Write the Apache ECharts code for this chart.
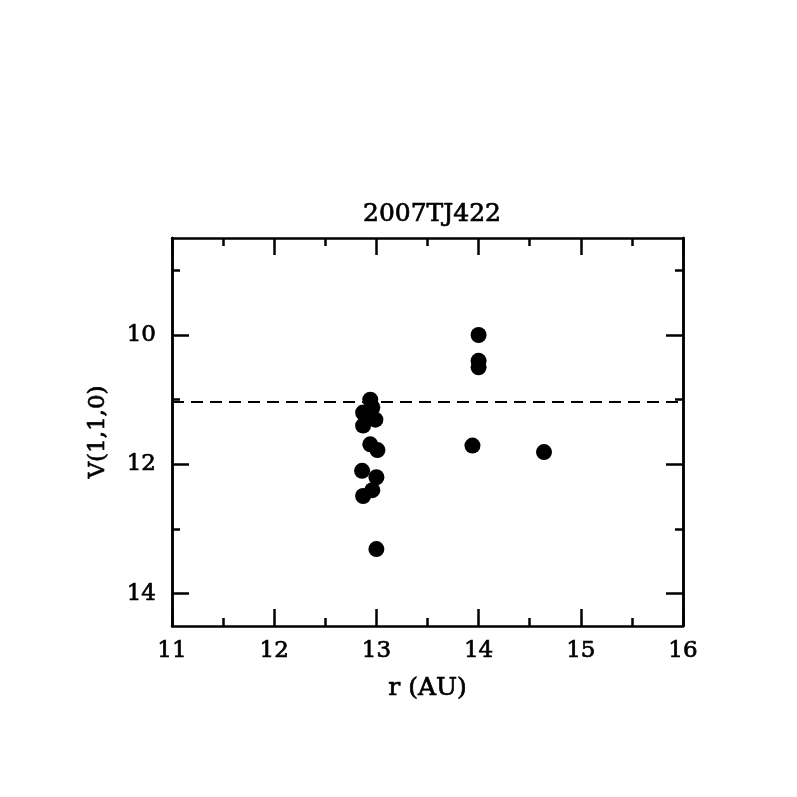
<!DOCTYPE html>
<html>
<head>
<meta charset="utf-8">
<script src="https://cdn.jsdelivr.net/npm/echarts@6/dist/echarts.min.js"></script>
<style>html,body{margin:0;padding:0;background:#fff;}#c{width:797px;height:797px;}</style>
</head>
<body>
<div id="c"></div>
<script>
const titleText = "2007TJ422";
const xName = "r (AU)";
const yName = "V(1,1,0)";
const rVals = [12.94, 12.87, 12.96, 12.99, 12.87, 12.94, 13.01, 12.86, 13.00, 12.96, 12.87, 13.00, 14.00, 14.00, 14.00, 13.94, 14.64];
const vVals = [11.00, 11.20, 11.12, 11.31, 11.40, 11.69, 11.78, 12.10, 12.20, 12.40, 12.49, 13.31, 10.00, 10.40, 10.50, 11.71, 11.81];
const refLine = 11.03;
const yMajor = [10, 12, 14];
const yMinor = [9, 11, 13];
const xRange = [11, 16];
const yRange = [8.5, 14.5];

const FONT = "DejaVu Serif";
const txt = {color: '#000', fontFamily: FONT, fontSize: 23, textBorderColor: '#000', textBorderWidth: 0.7};
const chart = echarts.init(document.getElementById('c'), null, {renderer: 'canvas'});
const line = {show: true, lineStyle: {color: '#000', width: 2.5}};
function xAx(pos, labels) {
  return {
    type: 'value', position: pos, min: xRange[0], max: xRange[1], interval: 1,
    axisLine: line,
    axisTick: {show: true, inside: true, length: 17, lineStyle: {color: '#000', width: 2.5}},
    minorTick: {show: true, splitNumber: 2, length: 8, lineStyle: {color: '#000', width: 2.5}},
    splitLine: {show: false}, minorSplitLine: {show: false},
    axisLabel: Object.assign({show: labels, margin: 14}, txt),
    name: labels ? xName : '', nameLocation: 'middle', nameGap: 50,
    nameTextStyle: Object.assign({}, txt, {fontSize: 25})
  };
}
function yAx(pos, ticks, len, labels) {
  return {
    type: 'value', position: pos, inverse: true, min: yRange[0], max: yRange[1],
    axisLine: line,
    axisTick: {show: true, inside: true, length: len, customValues: ticks, lineStyle: {color: '#000', width: 2.5}},
    splitLine: {show: false},
    axisLabel: Object.assign({show: labels, customValues: yMajor, margin: 16}, txt),
    name: labels ? yName : '', nameLocation: 'middle', nameGap: 62, nameRotate: 90,
    nameTextStyle: txt
  };
}
const data = rVals.map((r, i) => [r, vVals[i]]);
chart.setOption({
  animation: false,
  backgroundColor: '#fff',
  title: {text: titleText, left: 427, top: 197, textAlign: 'center',
    textStyle: Object.assign({fontWeight: 'normal'}, txt, {fontSize: 25})},
  grid: {left: 172, right: 114, top: 238, bottom: 171},
  xAxis: [xAx('bottom', true), xAx('top', false)],
  yAxis: [yAx('left', yMajor, 17, true), yAx('left', yMinor, 8, false),
          yAx('right', yMajor, 17, false), yAx('right', yMinor, 8, false)],
  series: [{
    type: 'scatter', xAxisIndex: 0, yAxisIndex: 0, data: data,
    symbol: 'circle', symbolSize: 16, itemStyle: {color: '#000', opacity: 1},
    markLine: {silent: true, symbol: 'none', label: {show: false},
      lineStyle: {color: '#000', width: 2, type: [12, 7]},
      data: [{yAxis: refLine}]}
  }]
});
</script>
</body>
</html>
